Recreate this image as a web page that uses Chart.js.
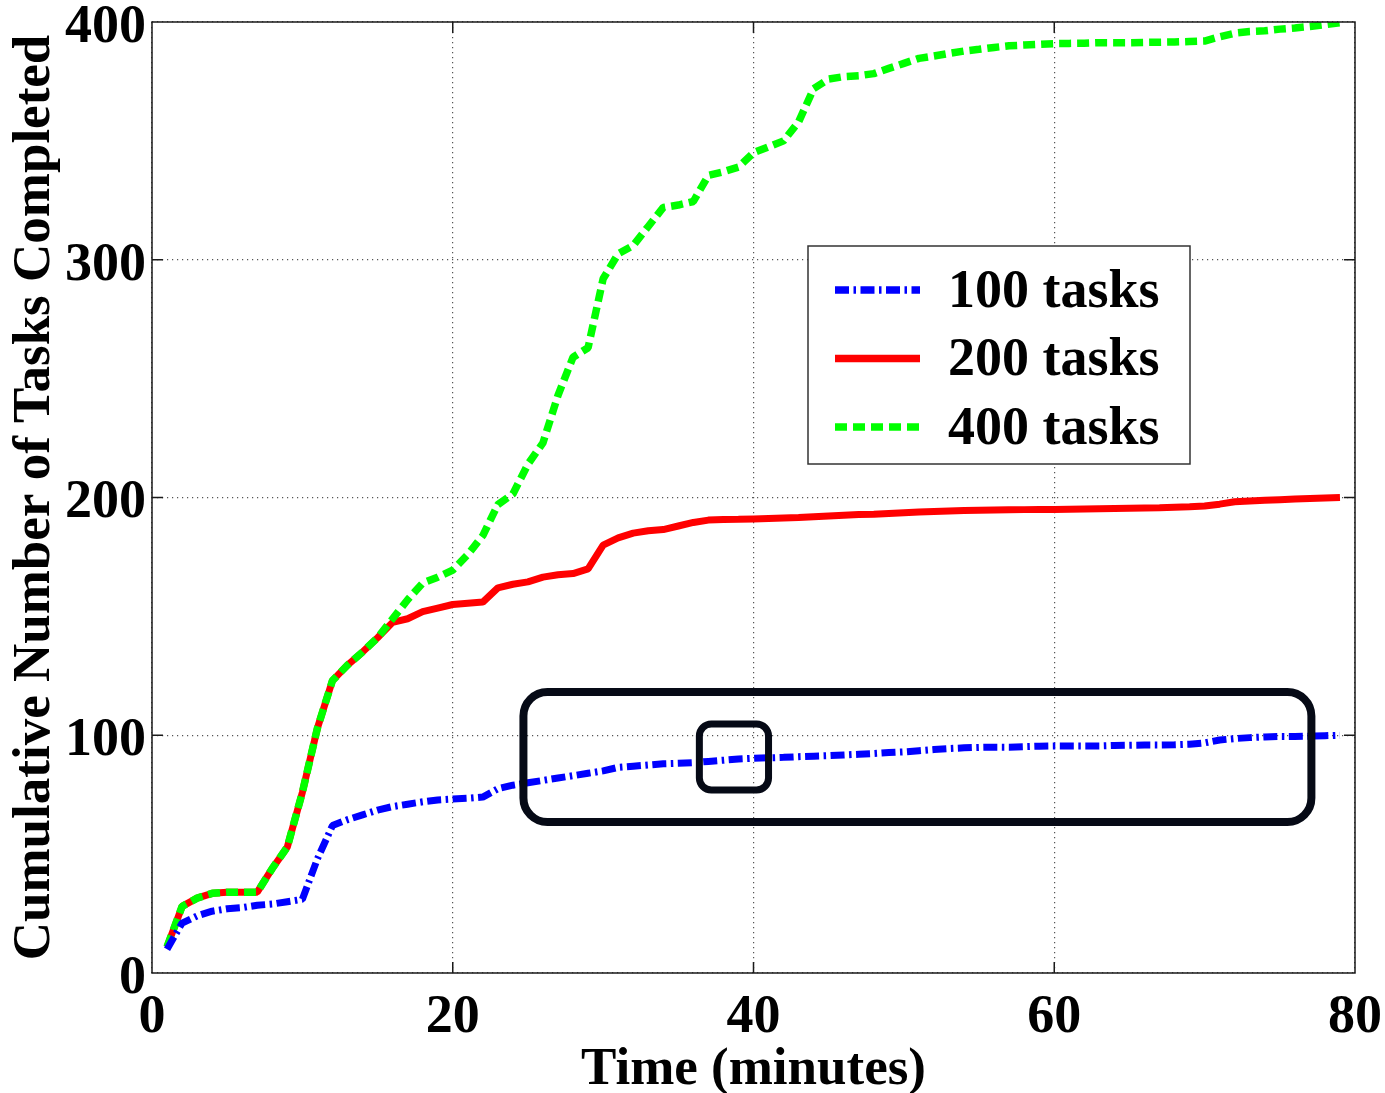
<!DOCTYPE html>
<html>
<head>
<meta charset="utf-8">
<script src="https://cdn.jsdelivr.net/npm/chart.js@4.4.1/dist/chart.umd.min.js"></script>
<style>
  html, body { margin: 0; padding: 0; background: #fff; }
  #wrap { width: 1385px; height: 1093px; }
</style>
</head>
<body>
<div id="wrap"><canvas id="tasksChart" width="1385" height="1093"></canvas></div>
<script>
// time axis, one sample per minute
const minutes = [1, 2, 3, 4, 5, 6, 7, 8, 9, 10,
  11, 12, 13, 14, 15, 16, 17, 18, 19, 20,
  21, 22, 23, 24, 25, 26, 27, 28, 29, 30,
  31, 32, 33, 34, 35, 36, 37, 38, 39, 40,
  41, 42, 43, 44, 45, 46, 47, 48, 49, 50,
  51, 52, 53, 54, 55, 56, 57, 58, 59, 60,
  61, 62, 63, 64, 65, 66, 67, 68, 69, 70,
  71, 72, 73, 74, 75, 76, 77, 78, 79];

const tasks100 = [10, 21, 24, 26, 27, 27.5, 28.5, 29, 30, 31,
  48, 62, 64.5, 66.5, 68.5, 70, 71, 72, 72.8, 73.2,
  73.5, 74, 77.5, 79, 80, 81, 82, 83, 84, 85,
  86.5, 87, 87.5, 88, 88.2, 88.5, 89, 89.5, 90, 90.3,
  90.5, 90.7, 91, 91.2, 91.4, 91.7, 92, 92.3, 92.7, 93,
  93.5, 94, 94.4, 94.7, 94.9, 95, 95, 95.2, 95.4, 95.5,
  95.5, 95.5, 95.5, 95.7, 95.8, 95.9, 95.9, 96, 96.2, 96.8,
  98, 98.6, 99, 99.3, 99.5, 99.5, 99.6, 99.8, 100];

const tasks200 = [11, 28, 31.5, 33.5, 34, 34, 34, 44, 53, 76,
  103, 123, 129.5, 135, 141, 147.5, 149, 152, 153.5, 155,
  155.5, 156, 162, 163.5, 164.5, 166.5, 167.5, 168, 170, 180,
  183, 185, 186, 186.5, 188, 189.5, 190.5, 190.7, 190.8, 191,
  191.2, 191.4, 191.6, 191.9, 192.2, 192.5, 192.8, 193, 193.3, 193.6,
  193.9, 194.1, 194.3, 194.5, 194.6, 194.7, 194.8, 194.9, 195, 195,
  195.1, 195.2, 195.3, 195.4, 195.5, 195.6, 195.7, 195.9, 196.1, 196.4,
  197.2, 198.2, 198.5, 198.8, 199.1, 199.4, 199.6, 199.8, 200];

const tasks400 = [11, 28, 31.5, 33.5, 34, 34, 34, 44, 53, 76,
  103, 123, 129.5, 135, 141, 149, 157, 164, 166.5, 169.5,
  176, 184, 197, 201.5, 214, 223, 243, 259, 263, 292,
  302.5, 306, 314, 322, 323, 324.5, 335.5, 337, 339, 345,
  347.5, 350, 358, 372, 376, 377, 377.4, 378.3, 380.5, 382.6,
  384.7, 385.7, 386.8, 387.8, 388.5, 389.3, 390, 390.3, 390.6, 390.9,
  391, 391.1, 391.3, 391.3, 391.3, 391.4, 391.5, 391.6, 391.8, 392,
  393.8, 395.3, 396, 396.3, 397, 397.5, 398.1, 398.9, 399.7];

const xTicks = [0, 20, 40, 60, 80];
const yTicks = [0, 100, 200, 300, 400];
const seriesNames = ['100 tasks', '200 tasks', '400 tasks'];

// highlighted regions drawn over the plot, in data units: [xMin, xMax, yMin, yMax]
const highlightWide = [24.7, 77.1, 63.5, 118.2];
const highlightSmall = [36.4, 41.0, 77, 104.7];

const serif = "'Liberation Serif', 'Times New Roman', serif";

const toPoints = (values) => minutes.map((m, i) => ({ x: m, y: values[i] }));

const frameAndTicks = {
  id: 'frameAndTicks',
  afterDatasetsDraw(chart) {
    const { ctx, chartArea: a, scales: { x, y } } = chart;
    ctx.save();
    ctx.strokeStyle = '#1a1a1a';
    ctx.lineWidth = 1.5;
    ctx.beginPath();
    xTicks.slice(1, -1).forEach(v => {
      const px = x.getPixelForValue(v);
      ctx.moveTo(px, a.bottom); ctx.lineTo(px, a.bottom - 11);
      ctx.moveTo(px, a.top); ctx.lineTo(px, a.top + 11);
    });
    yTicks.slice(1, -1).forEach(v => {
      const py = y.getPixelForValue(v);
      ctx.moveTo(a.left, py); ctx.lineTo(a.left + 11, py);
      ctx.moveTo(a.right, py); ctx.lineTo(a.right - 11, py);
    });
    ctx.stroke();
    ctx.strokeRect(a.left, a.top, a.right - a.left, a.bottom - a.top);
    ctx.restore();
  }
};

const highlights = {
  id: 'highlights',
  afterDatasetsDraw(chart) {
    const { ctx, scales: { x, y } } = chart;
    const box = (r, width, radius) => {
      const x0 = x.getPixelForValue(r[0]), x1 = x.getPixelForValue(r[1]);
      const y0 = y.getPixelForValue(r[3]), y1 = y.getPixelForValue(r[2]);
      ctx.lineWidth = width;
      ctx.beginPath();
      ctx.roundRect(x0, y0, x1 - x0, y1 - y0, radius);
      ctx.stroke();
    };
    ctx.save();
    ctx.strokeStyle = '#060a16';
    box(highlightWide, 8, 24);
    box(highlightSmall, 7, 12);
    ctx.restore();
  }
};

const legendBox = {
  id: 'legendBox',
  afterDatasetsDraw(chart) {
    const { ctx, chartArea: a } = chart;
    const left = a.left + 656, top = a.top + 224, w = 382, h = 218;
    ctx.save();
    ctx.fillStyle = '#fff';
    ctx.fillRect(left, top, w, h);
    ctx.strokeStyle = '#333';
    ctx.lineWidth = 1.5;
    ctx.strokeRect(left, top, w, h);

    ctx.font = 'bold 54px ' + serif;
    ctx.textBaseline = 'middle';
    ctx.textAlign = 'left';
    seriesNames.forEach((name, i) => {
      const ds = chart.data.datasets.find(d => d.label === name);
      const rowY = top + 44 + i * 68.5;
      ctx.strokeStyle = ds.borderColor;
      ctx.lineWidth = 7.5;
      ctx.setLineDash(ds.borderDash || []);
      ctx.beginPath();
      ctx.moveTo(left + 27, rowY);
      ctx.lineTo(left + 112, rowY);
      ctx.stroke();
      ctx.setLineDash([]);
      ctx.fillStyle = '#000';
      ctx.fillText(name, left + 140, rowY + 3);
    });
    ctx.restore();
  }
};

new Chart(document.getElementById('tasksChart'), {
  type: 'line',
  data: {
    datasets: [
      {
        label: seriesNames[0],
        data: toPoints(tasks100),
        borderColor: '#0000ff',
        borderWidth: 7,
        borderDash: [14, 4.5, 2.5, 4.5],
        order: 0
      },
      {
        label: seriesNames[1],
        data: toPoints(tasks200),
        borderColor: '#ff0000',
        borderWidth: 7,
        order: 2
      },
      {
        label: seriesNames[2],
        data: toPoints(tasks400),
        borderColor: '#00ff00',
        borderWidth: 7.5,
        borderDash: [12, 6],
        order: 1
      }
    ]
  },
  options: {
    responsive: false,
    animation: false,
    devicePixelRatio: 1,
    elements: {
      point: { radius: 0 },
      line: { tension: 0, fill: false, borderJoinStyle: 'bevel', borderCapStyle: 'butt' }
    },
    layout: { padding: { left: 0, right: 30, top: 22, bottom: 0 } },
    plugins: {
      legend: { display: false },
      tooltip: { enabled: false }
    },
    scales: {
      x: {
        type: 'linear',
        min: 0,
        max: 80,
        afterBuildTicks: (scale) => { scale.ticks = xTicks.map(v => ({ value: v })); },
        afterFit: (scale) => {
          scale.height = 120;
          scale.paddingLeft = 0;
          scale.paddingRight = 0;
        },
        ticks: {
          color: '#000',
          padding: 18,
          font: { family: serif, size: 54, weight: 'bold', lineHeight: 1 }
        },
        grid: { color: '#555', lineWidth: 1.2, drawTicks: false },
        border: { display: false, dash: [1.2, 3.8] },
        title: {
          display: true,
          text: 'Time (minutes)',
          color: '#000',
          font: { family: serif, size: 53, weight: 'bold', lineHeight: 0.85 },
          padding: { top: 0, bottom: 0 }
        }
      },
      y: {
        min: 0,
        max: 400,
        afterBuildTicks: (scale) => { scale.ticks = yTicks.map(v => ({ value: v })); },
        afterFit: (scale) => {
          scale.width = 152;
          scale.paddingTop = 0;
          scale.paddingBottom = 0;
        },
        ticks: {
          color: '#000',
          padding: 6,
          labelOffset: 6,
          font: { family: serif, size: 54, weight: 'bold', lineHeight: 1 }
        },
        grid: { color: '#555', lineWidth: 1.2, drawTicks: false },
        border: { display: false, dash: [1.2, 3.8] },
        title: {
          display: true,
          text: 'Cumulative Number of Tasks Completed',
          color: '#000',
          font: { family: serif, size: 53, weight: 'bold', lineHeight: 1 },
          padding: { top: 9, bottom: 0 }
        }
      }
    }
  },
  plugins: [frameAndTicks, highlights, legendBox]
});
</script>
</body>
</html>
